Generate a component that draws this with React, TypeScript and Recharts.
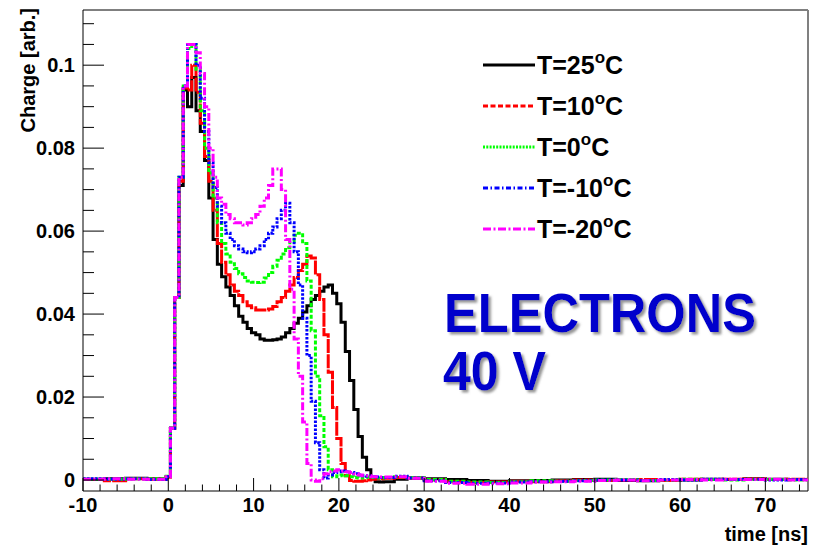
import {
	Customized,
	Line,
	LineChart,
	ReferenceLine,
	XAxis,
	YAxis,
} from "recharts";

const FONT = '"Liberation Sans", Arial, Helvetica, sans-serif';

const X_MIN = -10;
const X_MAX = 75;
const Y_MIN = -0.00265;
const Y_MAX = 0.1133;

// bin left edges (ns): flat pre-pulse, 0.5 ns bins over the pulse, coarse tail
const preTimes = [-10, -7.5, -5, -2.5, -0.25];
const pulseTimes = Array.from({ length: 50 }, (_, i) => 0.25 + 0.5 * i);
const tailTimes = [
	25.25, 26.5, 28, 30, 32.5, 35, 37.5, 40, 42.5, 45, 47.5, 50, 52.5, 55, 57.5,
	60, 62.5, 65, 67.5, 70, 72.5, 75,
];

// T = 25 C
const t25 = [
	0.0002, 0.0003, 0.0004, 0.0003, 0.0008,
	0.0125, 0.044, 0.071, 0.094, 0.09, 0.097, 0.089, 0.084, 0.077, 0.068,
	0.058, 0.052, 0.049, 0.0465, 0.0445, 0.042, 0.0395, 0.038, 0.0365, 0.0355,
	0.035, 0.034, 0.0337, 0.0337, 0.0338, 0.034, 0.0345, 0.0355, 0.0365, 0.0378,
	0.039, 0.0405, 0.042, 0.0435, 0.0445, 0.0455, 0.0465, 0.047, 0.045, 0.0425,
	0.038, 0.031, 0.024, 0.017, 0.0105, 0.0055, 0.0025, 0.0003, -0.0004, -0.0005,
	-0.0004, 0.0002, 0.0005, 0.0003, 0.0001, -0.0001, -0.0003, -0.0002, -0.0001, 0.0,
	0.0001, 0.0002, -0.0001, -0.0002, -0.0001, 0.0, 0.0002, 0.0001, 0.0003, 0.0002,
	0.0001, 0.0,
];

// T = 10 C
const t10 = [
	0.0001, -0.0002, 0.0003, 0.0002, 0.0007,
	0.0125, 0.044, 0.072, 0.0945, 0.094, 0.1, 0.0935, 0.086, 0.078, 0.072,
	0.065, 0.057, 0.0525, 0.0495, 0.047, 0.0455, 0.0445, 0.043, 0.042, 0.0415,
	0.041, 0.041, 0.041, 0.0412, 0.0418, 0.043, 0.044, 0.0455, 0.047, 0.0488,
	0.0505, 0.052, 0.054, 0.0535, 0.0495, 0.0435, 0.035, 0.026, 0.0175, 0.01,
	0.004, 0.001, -0.0001, -0.0003, -0.0003, -0.0002, 0.0, 0.0002, 0.0003, 0.0003,
	0.0004, 0.0006, 0.0005, 0.0, -0.0004, -0.0006, -0.0005, -0.0003, -0.0004, -0.0002,
	0.0, -0.0001, 0.0, 0.0001, -0.0001, 0.0002, 0.0001, 0.0002, 0.0003, 0.0001,
	0.0002, 0.0,
];

// T = 0 C
const t0 = [
	0.0002, 0.0002, 0.0003, 0.0003, 0.0009,
	0.0125, 0.044, 0.073, 0.095, 0.104, 0.105, 0.099, 0.089, 0.08, 0.074,
	0.068, 0.062, 0.057, 0.0545, 0.0525, 0.051, 0.0497, 0.0488, 0.048, 0.0477,
	0.0476, 0.0477, 0.0487, 0.05, 0.0515, 0.053, 0.0545, 0.056, 0.0575, 0.059,
	0.0595, 0.057, 0.048, 0.036, 0.025, 0.0155, 0.008, 0.0025, 0.0008, 0.001,
	0.0012, 0.001, 0.0008, 0.0006, 0.0005, 0.0006, 0.0007, 0.0006, 0.0005, 0.0005,
	0.0006, 0.0008, 0.0006, 0.0001, -0.0003, -0.0005, -0.0006, -0.0004, -0.0002, -0.0003,
	-0.0001, 0.0, 0.0001, -0.0001, 0.0, 0.0002, 0.0001, 0.0, 0.0002, 0.0001,
	0.0, 0.0,
];

// T = -10 C
const tm10 = [
	0.0003, 0.0002, 0.0003, 0.0001, 0.0008,
	0.0125, 0.044, 0.073, 0.095, 0.105, 0.105, 0.1, 0.092, 0.084, 0.0765,
	0.0705, 0.066, 0.062, 0.0595, 0.058, 0.0565, 0.0557, 0.055, 0.0548, 0.055,
	0.0557, 0.0565, 0.058, 0.0595, 0.061, 0.063, 0.065, 0.0667, 0.062, 0.055,
	0.047, 0.039, 0.03, 0.019, 0.009, 0.0025, 0.0005, 0.0012, 0.0018, 0.002,
	0.0022, 0.002, 0.0018, 0.0015, 0.0012, 0.001, 0.0009, 0.0008, 0.0007, 0.0006,
	0.0006, 0.0009, 0.0005, -0.0002, -0.0006, -0.0008, -0.0007, -0.0005, -0.0004, -0.0003,
	-0.0002, 0.0, 0.0, -0.0001, 0.0001, 0.0, 0.0002, 0.0001, 0.0002, 0.0,
	0.0001, 0.0,
];

// T = -20 C
const tm20 = [
	0.0002, 0.0003, 0.0002, 0.0002, 0.0008,
	0.0125, 0.044, 0.073, 0.095, 0.105, 0.105, 0.103, 0.098, 0.09, 0.08,
	0.073, 0.068, 0.0665, 0.064, 0.063, 0.062, 0.062, 0.0615, 0.062, 0.063,
	0.064, 0.066, 0.068, 0.071, 0.075, 0.075, 0.07, 0.058, 0.046, 0.034,
	0.025, 0.014, 0.004, 0.0, -0.0003, 0.0003, 0.0015, 0.002, 0.0022, 0.0025,
	0.0022, 0.002, 0.0018, 0.0015, 0.0012, 0.001, 0.001, 0.0008, 0.0008, 0.0007,
	0.0007, 0.0008, 0.0004, -0.0003, -0.0008, -0.001, -0.0009, -0.0007, -0.0005, -0.0004,
	-0.0003, -0.0001, 0.0, -0.0002, 0.0, 0.0001, 0.0, 0.0002, 0.0001, 0.0002,
	0.0, 0.0,
];

const times = [...preTimes, ...pulseTimes, ...tailTimes];

// plotDash: pattern on the histogram, legendDash: pattern in the legend sample
const series = [
	{ key: "t25", values: t25, label: "T=25", color: "#000000", plotDash: undefined, legendDash: undefined },
	{ key: "t10", values: t10, label: "T=10", color: "#ff0000", plotDash: "14 1.2", legendDash: "5 2.5" },
	{ key: "t0", values: t0, label: "T=0", color: "#00ff00", plotDash: "4 2", legendDash: "2 1.3" },
	{ key: "tm10", values: tm10, label: "T=-10", color: "#0000ff", plotDash: "2.5 1.5", legendDash: "5 2.5 1.5 2.5" },
	{ key: "tm20", values: tm20, label: "T=-20", color: "#ff00ff", plotDash: "8 2.5 2 2.5", legendDash: "8 2.5 2 2.5" },
];

const data = times.map((t, i) => {
	const row: { [k: string]: number } = { t };
	series.forEach((s) => {
		row[s.key] = s.values[i];
	});
	return row;
});

const xTicks = Array.from({ length: 43 }, (_, i) => -10 + 2 * i);
const yTicks = Array.from({ length: 23 }, (_, i) => +(0.005 * i).toFixed(3));

function XTick(props: any) {
	const { x, y, payload } = props;
	const v = payload.value;
	const major = v % 10 === 0;
	return (
		<g>
			<line x1={x} x2={x} y1={y} y2={y - (major ? 13 : 6.5)} stroke="#000" />
			{major && (
				<text
					x={x}
					y={y + 21}
					textAnchor="middle"
					fontFamily={FONT}
					fontWeight="bold"
					fontSize={20}
					fill="#000"
				>
					{v}
				</text>
			)}
		</g>
	);
}

function YTick(props: any) {
	const { x, y, payload } = props;
	const v = payload.value;
	const r = v / 0.02;
	const major = Math.abs(r - Math.round(r)) < 1e-6;
	return (
		<g>
			<line x1={x} x2={x + (major ? 21 : 11)} y1={y} y2={y} stroke="#000" />
			{major && (
				<text
					x={x - 8}
					y={y + 7}
					textAnchor="end"
					fontFamily={FONT}
					fontWeight="bold"
					fontSize={20}
					fill="#000"
				>
					{String(+v.toFixed(2))}
				</text>
			)}
		</g>
	);
}

const legendRows = [65, 106, 147, 188, 229];

function Annotations() {
	return (
		<g fontFamily={FONT} fontWeight="bold">
			<defs>
				<filter id="txtShadow" x="-5%" y="-10%" width="115%" height="130%">
					<feDropShadow dx="2.5" dy="2.5" stdDeviation="0.8" floodColor="#8a8a8a" floodOpacity="0.9" />
				</filter>
			</defs>
			<text
				transform="translate(35,8) rotate(-90)"
				textAnchor="end"
				fontSize={20}
				fill="#000"
			>
				Charge [arb.]
			</text>
			<text x={808} y={541} textAnchor="end" fontSize={20} fill="#000">
				time [ns]
			</text>

			{series.map((s, i) => (
				<g key={s.key}>
					<line
						x1={483}
						x2={535}
						y1={legendRows[i]}
						y2={legendRows[i]}
						stroke={s.color}
						strokeWidth={3}
						strokeDasharray={s.legendDash}
					/>
					<text x={537} y={legendRows[i] + 9} fontSize={25} fill="#000">
						{s.label}
						<tspan fontSize={17} dy={-11}>
							o
						</tspan>
						<tspan fontSize={25} dy={11}>
							C
						</tspan>
					</text>
				</g>
			))}

			<g fontSize={56} fill="#0000cc" filter="url(#txtShadow)">
				<text x={444} y={332} textLength={312} lengthAdjust="spacingAndGlyphs">
					ELECTRONS
				</text>
				<text x={443} y={390} textLength={103} lengthAdjust="spacingAndGlyphs">
					40 V
				</text>
			</g>
		</g>
	);
}

export default function App() {
	return (
		<div style={{ position: "absolute", left: 0, top: 0, background: "#fff" }}>
			<LineChart
				width={823}
				height={546}
				data={data}
				margin={{ top: 10, right: 15, bottom: 0, left: 0 }}
			>
				<XAxis
					type="number"
					dataKey="t"
					domain={[X_MIN, X_MAX]}
					ticks={xTicks}
					interval={0}
					tickSize={0}
					tickMargin={0}
					tickLine={false}
					tick={<XTick />}
					axisLine={{ stroke: "#000" }}
					height={55}
					allowDataOverflow
				/>
				<YAxis
					type="number"
					domain={[Y_MIN, Y_MAX]}
					ticks={yTicks}
					interval={0}
					tickSize={0}
					tickMargin={0}
					tickLine={false}
					tick={<YTick />}
					axisLine={{ stroke: "#000" }}
					width={83}
					allowDataOverflow
				/>
				<ReferenceLine y={Y_MAX} stroke="#000" />
				<ReferenceLine x={X_MAX} stroke="#808080" strokeWidth={2} />
				{series.map((s) => (
					<Line
						key={s.key}
						type="stepAfter"
						dataKey={s.key}
						stroke={s.color}
						strokeWidth={3}
						strokeDasharray={s.plotDash}
						dot={false}
						activeDot={false}
						isAnimationActive={false}
					/>
				))}
				<Customized component={Annotations} />
			</LineChart>
		</div>
	);
}
